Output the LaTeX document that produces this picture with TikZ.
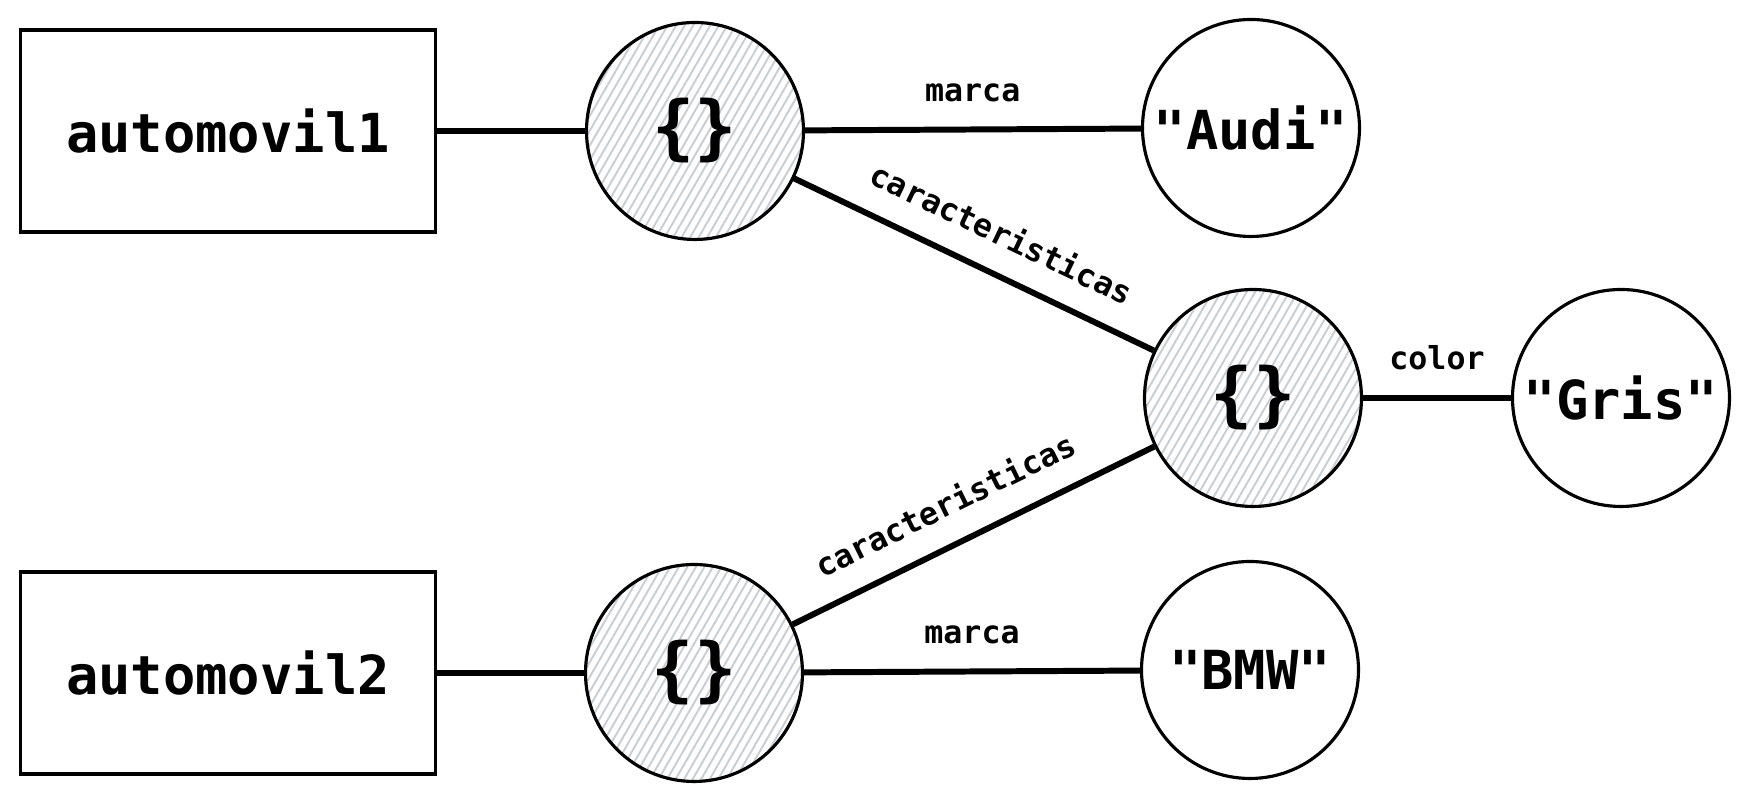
\documentclass[tikz,border=0pt]{standalone}
\usepackage{fontspec}
\setmonofont{DejaVu Sans Mono}
\usepackage{tikz}
\usetikzlibrary{patterns.meta}
\definecolor{hatchgray}{RGB}{200,206,214}
\tikzset{
  objbox/.style={draw,line width=0.9pt,rectangle,minimum width=4.15cm,minimum height=2.02cm,
    font=\ttfamily\bfseries\fontsize{15.3}{18}\selectfont},
  valnode/.style={draw,line width=0.9pt,circle,minimum size=2.17cm,inner sep=0pt,
    font=\ttfamily\bfseries\fontsize{15.3}{18}\selectfont},
  dictnode/.style={valnode,font=\ttfamily\bfseries\fontsize{20}{24}\selectfont,
    pattern={Lines[angle=60,distance=2.1pt,line width=0.55pt]},pattern color=hatchgray},
  link/.style={line width=1.7pt},
  keylabel/.style={font=\ttfamily\bfseries\fontsize{9}{11}\selectfont,inner sep=2pt}
}
\begin{document}
\begin{tikzpicture}
        \useasboundingbox (0,0) rectangle (17.48,7.98);
        \fill[white] (0,0) rectangle (17.48,7.98);
        % Objects
        \node[objbox] (auto1) at (2.28,6.67) {automovil1};
        \node[objbox] (auto2) at (2.28,1.25) {automovil2};
        % Dictionaries
        \node[dictnode] (dict1) at (6.95,6.67) {\{\}};
        \node[dictnode] (dict2) at (6.94,1.25) {\{\}};
        \node[dictnode] (dictc) at (12.53,4.00) {\{\}};
        % Values
        \node[valnode] (audi) at (12.51,6.70) {"Audi"};
        \node[valnode] (bmw) at (12.50,1.28) {"BMW"};
        \node[valnode] (gris) at (16.21,4.00) {"Gris"};
        % Connections
        \draw[link] (auto1) -- (dict1);
        \draw[link] (auto2) -- (dict2);
        \draw[link] (dict1) -- node[keylabel,above=5pt] {marca} (audi);
        \draw[link] (dict2) -- node[keylabel,above=5pt] {marca} (bmw);
        \draw[link] (dict1) -- node[keylabel,sloped,above=5pt,pos=0.53] {caracteristicas} (dictc);
        \draw[link] (dict2) -- node[keylabel,sloped,above=5pt,pos=0.47] {caracteristicas} (dictc);
        \draw[link] (dictc) -- node[keylabel,above=5pt] {color} (gris);
\end{tikzpicture}
\end{document}
